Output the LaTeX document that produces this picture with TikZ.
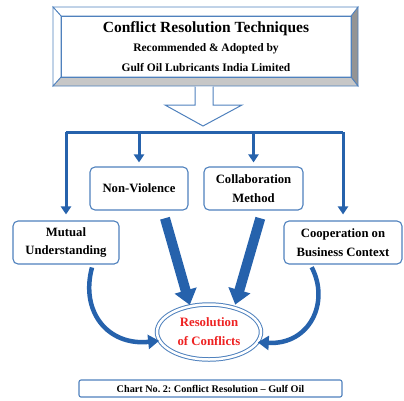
\documentclass[tikz,border=0pt]{standalone}
\usepackage{fontspec}
\setmainfont{Liberation Serif}
\usetikzlibrary{arrows.meta,positioning,calc,shapes.geometric}
\definecolor{boxblue}{RGB}{79,129,189}
\definecolor{arrblue}{RGB}{38,98,172}
\definecolor{resred}{RGB}{238,34,34}
\frenchspacing

\begin{document}
\begin{tikzpicture}[
			x=1pt, y=-1pt,
			box/.style={rectangle,rounded corners=5pt,draw=boxblue,line width=1.1pt,fill=white,
				align=center,font=\bfseries\fontsize{12.7}{18.5}\selectfont,inner sep=0pt},
			branch/.style={arrblue,line width=3pt,-{Triangle[width=10pt,length=8pt]}},
			fat/.style={arrblue,line width=10pt,-{Triangle[width=22pt,length=15pt]}},
			curvearr/.style={arrblue,line width=4.5pt,-{Triangle[width=14pt,length=11pt]}}]
		\useasboundingbox (0,0) rectangle (404,400);
		% bevelled frame of the heading
		\filldraw [draw=boxblue,fill=black!42,line width=0.8pt] (351,16) -- (358,7) -- (358,86) -- (351,77) -- cycle;
		\filldraw [draw=boxblue,fill=black!22,line width=0.8pt] (61,77) -- (351,77) -- (358,86) -- (53,86) -- cycle;
		\filldraw [draw=boxblue,fill=white,line width=0.8pt] (53,7) -- (358,7) -- (351,16) -- (61,16) -- cycle;
		\filldraw [draw=boxblue,fill=white,line width=0.8pt] (53,7) -- (61,16) -- (61,77) -- (53,86) -- cycle;
		\path 	(206,46.5) node (head) [rectangle,draw=boxblue,line width=0.8pt,minimum width=290pt,minimum height=61pt,
					align=center,inner sep=0pt,font=\bfseries\fontsize{11.5}{19.5}\selectfont]
					{{\fontsize{15.5}{19.5}\selectfont Conflict Resolution Techniques}\\
					 Recommended \& Adopted by\\
					 Gulf Oil Lubricants India Limited};
		% hollow arrow
		\filldraw [draw=boxblue,fill=white,line width=1pt] (195,86.5) -- (195,105) -- (165,105) -- (203,126)
				-- (242,105) -- (213,105) -- (213,86.5);
		\path 	(139,188.5) 	node 	(nv) [box,minimum width=98pt,minimum height=43pt] {Non-Violence}
		        (253.5,188.5) 	node 	(cm) [box,minimum width=99pt,minimum height=43pt] {Collaboration\\Method}
		        (66,242.5) 	node  	(mu) [box,minimum width=106pt,minimum height=43pt] {Mutual\\Understanding}
		        (343,242.5) 	node  	(co) [box,minimum width=118pt,minimum height=43pt] {Cooperation on\\Business Context}
		        (209,332) 	node  	(res) [ellipse,draw=boxblue,line width=1pt,double=white,double distance=2.5pt,
		        			minimum width=104pt,minimum height=55pt,inner sep=0pt,align=center,text=resred,
		        			font=\bfseries\fontsize{12.8}{19}\selectfont] {Resolution\\of Conflicts}
		        (210.5,388.5) 	node 	(cap) [box,rounded corners=2pt,minimum width=263pt,minimum height=17pt,
		        			font=\bfseries\fontsize{10.2}{12}\selectfont] {Chart No. 2: Conflict Resolution -- Gulf Oil};
		\coordinate (bar) at (0,132);
		\draw [arrblue,line width=3pt] (mu.north |- bar) -- (co.north |- bar);
		\draw [branch,shorten >=6pt] (mu.north |- bar) -- (mu.north);
		\draw [branch,shorten >=4pt] (nv.north |- bar) -- (nv.north);
		\draw [branch,shorten >=4pt] (cm.north |- bar) -- (cm.north);
		\draw [branch,shorten >=6pt] (co.north |- bar) -- (co.north);
		\draw [fat,shorten <=8pt,shorten >=1pt] ($(nv.south)!0.48!(nv.south east)$) -- (res.126);
		\draw [fat,shorten <=8pt,shorten >=3pt] ($(cm.south)!0.18!(cm.south east)$) -- (res.44);
		\draw [curvearr,shorten <=3pt] ($(mu.south)!0.5!(mu.south east)$) .. controls (80,312) and (108,346) .. (res.190);
		\draw [curvearr,shorten <=3pt] ($(co.south)!0.55!(co.south west)$) .. controls (330,302) and (310,345) .. (res.-12);
	\end{tikzpicture}
\end{document}
